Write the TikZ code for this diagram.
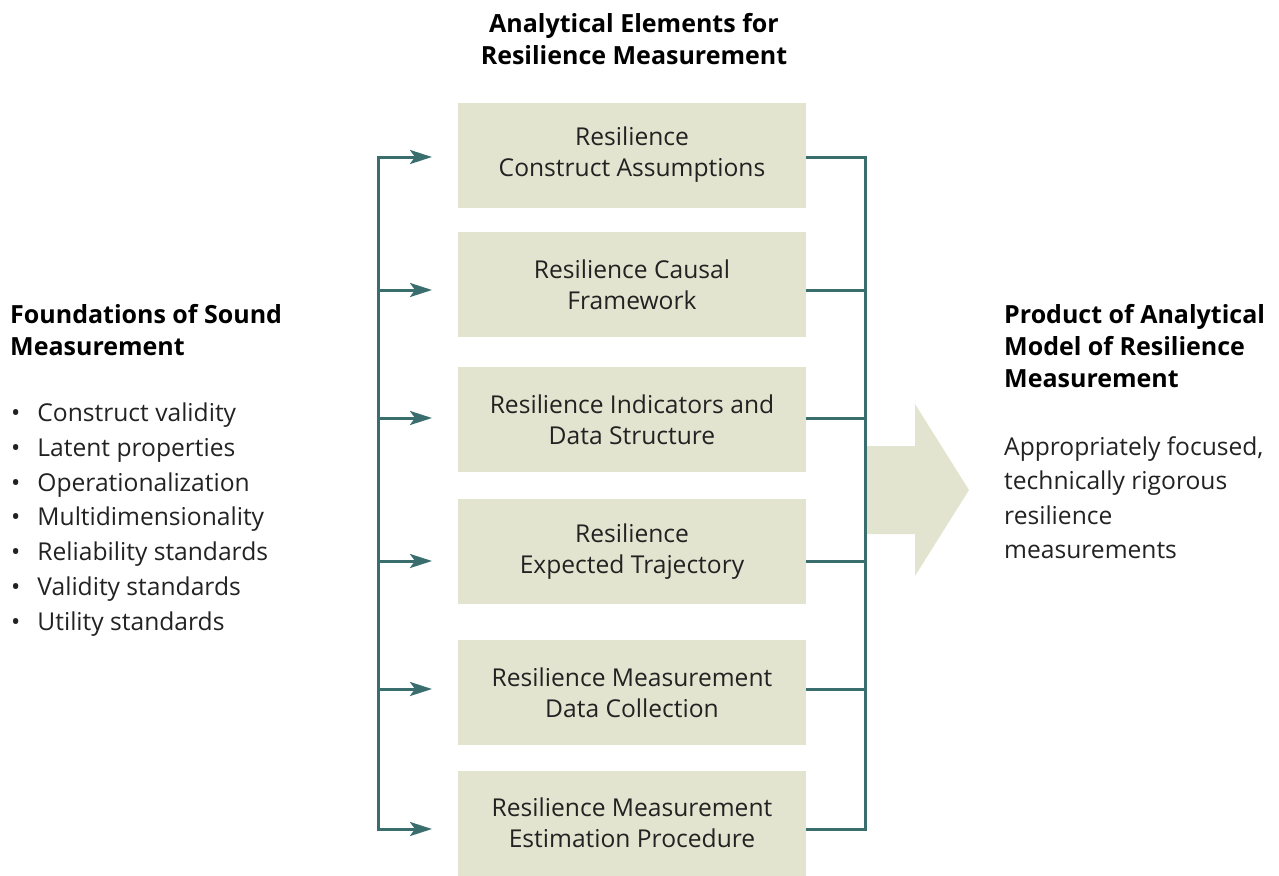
\documentclass[tikz,border=0pt]{standalone}
\usepackage{fontspec}
\setmainfont{Open Sans}
\usetikzlibrary{arrows.meta}
\definecolor{busline}{HTML}{3A6E6E}
\definecolor{elembg}{HTML}{E3E4CF}
\definecolor{ink}{HTML}{222222}

\begin{document}
\begin{tikzpicture}[x=1pt, y=-1pt,
      txt/.style={font=\fontsize{24.6}{31}\selectfont, text=ink, inner sep=0pt},
      hdr/.style={font=\fontsize{25}{32}\selectfont\bfseries, text=black, inner sep=0pt},
      elem/.style={txt, fill=elembg, minimum width=348pt, minimum height=105pt, align=center},
      feed/.style={-{Stealth[length=22pt, width=14pt, inset=5pt]}, line width=3pt, draw=busline},
      link/.style={line width=3pt, draw=busline},
      bus/.style={link, line cap=rect},
   ]
   \useasboundingbox (0,0) rectangle (1279,875);

   % analytical elements
   \node[hdr, align=center] (title) at (634,39) {Analytical Elements for\\Resilience Measurement};
   \node[elem] (b1) at (632,155)   {Resilience\\Construct Assumptions};
   \node[elem] (b2) at (632,284.5) {Resilience Causal\\Framework};
   \node[elem] (b3) at (632,419.5) {Resilience Indicators and\\Data Structure};
   \node[elem] (b4) at (632,551.5) {Resilience\\Expected Trajectory};
   \node[elem] (b5) at (632,692.5) {Resilience Measurement\\Data Collection};
   \node[elem] (b6) at (632,823)   {Resilience Measurement\\Estimation Procedure};

   % rows of the two buses
   \foreach \i/\y in {1/157, 2/290, 3/418, 4/561, 5/689, 6/829} {
      \coordinate (l\i) at (378,\y);
      \coordinate (a\i) at (432,\y);
      \coordinate (r\i) at (865,\y);
   }

   % big arrow towards the product
   \fill[elembg] (867,446) -- (915,446) -- (915,404) -- (969,490)
      -- (915,576) -- (915,534) -- (867,534) -- cycle;

   \draw[bus] (l1) -- (l6);
   \draw[bus] (r1) -- (r6);
   \foreach \i in {1,...,6} {
      \draw[feed] (l\i) -- (a\i);
      \draw[link] (b\i.east |- r\i) -- (r\i);
   }

   % foundations
   \node[hdr, align=left, anchor=north west] (found) at (10,304)
      {Foundations of Sound\\Measurement};
   \node[txt, align=left, anchor=north west, font=\fontsize{24.6}{34.7}\selectfont] (items) at (11,403)
      {\textbullet\hspace{17pt}Construct validity\\
       \textbullet\hspace{17pt}Latent properties\\
       \textbullet\hspace{17pt}Operationalization\\
       \textbullet\hspace{17pt}Multidimensionality\\
       \textbullet\hspace{17pt}Reliability standards\\
       \textbullet\hspace{17pt}Validity standards\\
       \textbullet\hspace{17pt}Utility standards};

   % product
   \node[hdr, align=left, anchor=north west] (prod) at (1004,304)
      {Product of Analytical\\Model of Resilience\\Measurement};
   \node[txt, align=left, anchor=north west, font=\fontsize{24.6}{34.5}\selectfont] (result) at (1004,436)
      {Appropriately focused,\\technically rigorous\\resilience\\measurements};
\end{tikzpicture}
\end{document}
